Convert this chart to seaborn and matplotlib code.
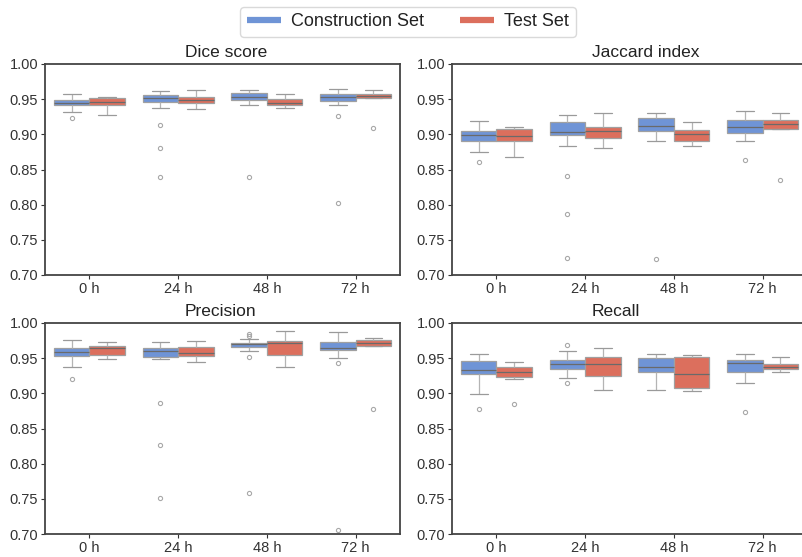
import matplotlib
matplotlib.use("Agg")
import matplotlib.pyplot as plt
import seaborn as sns
import pandas as pd
from matplotlib.lines import Line2D

sns.set_theme(style="white")
plt.rcParams['font.family'] = ['Liberation Sans', 'DejaVu Sans']

timepoints = ["0 h", "24 h", "48 h", "72 h"]
sets = ["Construction Set", "Test Set"]
metrics = ["Dice score", "Jaccard index", "Precision", "Recall"]
palette = {"Construction Set": "#6f94d6", "Test Set": "#dc6f5d"}
y_ticks = [0.70, 0.75, 0.80, 0.85, 0.90, 0.95, 1.00]

# --- Dice score ---
dice_con = {
    "0 h":  [0.923, 0.932, 0.942, 0.942, 0.942, 0.942, 0.945, 0.945, 0.945, 0.945, 0.949, 0.949, 0.949, 0.949, 0.957],
    "24 h": [0.839, 0.880, 0.913, 0.938, 0.946, 0.946, 0.946, 0.946, 0.951, 0.951, 0.951, 0.951, 0.956, 0.956, 0.956, 0.956, 0.962],
    "48 h": [0.839, 0.941, 0.949, 0.949, 0.949, 0.949, 0.953, 0.953, 0.953, 0.953, 0.959, 0.959, 0.959, 0.959, 0.963],
    "72 h": [0.802, 0.926, 0.942, 0.947, 0.947, 0.947, 0.947, 0.953, 0.953, 0.953, 0.953, 0.958, 0.958, 0.958, 0.958, 0.964],
}
dice_test = {
    "0 h":  [0.928, 0.941, 0.941, 0.941, 0.941, 0.946, 0.946, 0.946, 0.946, 0.951, 0.951, 0.951, 0.951, 0.953],
    "24 h": [0.936, 0.944, 0.944, 0.944, 0.944, 0.949, 0.949, 0.949, 0.949, 0.953, 0.953, 0.953, 0.953, 0.963],
    "48 h": [0.938, 0.942, 0.942, 0.942, 0.942, 0.945, 0.945, 0.945, 0.945, 0.950, 0.950, 0.950, 0.950, 0.957],
    "72 h": [0.909, 0.951, 0.951, 0.951, 0.951, 0.951, 0.955, 0.955, 0.955, 0.955, 0.958, 0.958, 0.958, 0.958, 0.963],
}
# --- Jaccard index ---
jac_con = {
    "0 h":  [0.860, 0.875, 0.891, 0.891, 0.891, 0.891, 0.899, 0.899, 0.899, 0.899, 0.905, 0.905, 0.905, 0.905, 0.919],
    "24 h": [0.724, 0.787, 0.841, 0.884, 0.899, 0.899, 0.899, 0.899, 0.903, 0.903, 0.903, 0.903, 0.917, 0.917, 0.917, 0.917, 0.927],
    "48 h": [0.723, 0.890, 0.905, 0.905, 0.905, 0.905, 0.912, 0.912, 0.912, 0.912, 0.923, 0.923, 0.923, 0.923, 0.931],
    "72 h": [0.863, 0.891, 0.902, 0.902, 0.902, 0.902, 0.911, 0.911, 0.911, 0.911, 0.920, 0.920, 0.920, 0.920, 0.933],
}
jac_test = {
    "0 h":  [0.868, 0.891, 0.891, 0.891, 0.891, 0.898, 0.898, 0.898, 0.898, 0.9075, 0.9075, 0.9075, 0.9075, 0.911],
    "24 h": [0.880, 0.895, 0.895, 0.895, 0.895, 0.905, 0.905, 0.905, 0.905, 0.911, 0.911, 0.911, 0.911, 0.931],
    "48 h": [0.884, 0.891, 0.891, 0.891, 0.891, 0.901, 0.901, 0.901, 0.901, 0.906, 0.906, 0.906, 0.906, 0.918],
    "72 h": [0.835, 0.908, 0.908, 0.908, 0.908, 0.908, 0.915, 0.915, 0.915, 0.915, 0.920, 0.920, 0.920, 0.920, 0.930],
}
# --- Precision ---
prec_con = {
    "0 h":  [0.921, 0.937, 0.953, 0.953, 0.953, 0.953, 0.959, 0.959, 0.959, 0.959, 0.964, 0.964, 0.964, 0.964, 0.976],
    "24 h": [0.751, 0.827, 0.886, 0.949, 0.952, 0.952, 0.952, 0.952, 0.960, 0.960, 0.960, 0.960, 0.964, 0.964, 0.964, 0.964, 0.973],
    "48 h": [0.759, 0.951, 0.960, 0.966, 0.966, 0.966, 0.966, 0.970, 0.970, 0.970, 0.970, 0.972, 0.972, 0.972, 0.972, 0.977, 0.982, 0.9845],
    "72 h": [0.706, 0.943, 0.950, 0.962, 0.962, 0.962, 0.962, 0.965, 0.965, 0.965, 0.965, 0.9725, 0.9725, 0.9725, 0.9725, 0.987],
}
prec_test = {
    "0 h":  [0.949, 0.955, 0.955, 0.955, 0.955, 0.964, 0.964, 0.964, 0.964, 0.968, 0.968, 0.968, 0.968, 0.973],
    "24 h": [0.945, 0.953, 0.953, 0.953, 0.953, 0.957, 0.957, 0.957, 0.957, 0.966, 0.966, 0.966, 0.966, 0.975],
    "48 h": [0.938, 0.954, 0.954, 0.954, 0.954, 0.971, 0.971, 0.971, 0.971, 0.974, 0.974, 0.974, 0.974, 0.989],
    "72 h": [0.878, 0.967, 0.967, 0.967, 0.967, 0.967, 0.972, 0.972, 0.972, 0.972, 0.976, 0.976, 0.976, 0.976, 0.979],
}
# --- Recall ---
rec_con = {
    "0 h":  [0.878, 0.899, 0.927, 0.927, 0.927, 0.927, 0.933, 0.933, 0.933, 0.933, 0.946, 0.946, 0.946, 0.946, 0.956],
    "24 h": [0.914, 0.922, 0.935, 0.935, 0.935, 0.935, 0.942, 0.942, 0.942, 0.942, 0.948, 0.948, 0.948, 0.948, 0.960, 0.969],
    "48 h": [0.905, 0.931, 0.931, 0.931, 0.931, 0.938, 0.938, 0.938, 0.938, 0.950, 0.950, 0.950, 0.950, 0.956],
    "72 h": [0.873, 0.914, 0.930, 0.930, 0.930, 0.930, 0.943, 0.943, 0.943, 0.943, 0.948, 0.948, 0.948, 0.948, 0.956],
}
rec_test = {
    "0 h":  [0.885, 0.920, 0.923, 0.923, 0.923, 0.923, 0.931, 0.931, 0.931, 0.931, 0.938, 0.938, 0.938, 0.938, 0.945],
    "24 h": [0.905, 0.925, 0.925, 0.925, 0.925, 0.941, 0.941, 0.941, 0.941, 0.952, 0.952, 0.952, 0.952, 0.965],
    "48 h": [0.904, 0.907, 0.907, 0.907, 0.907, 0.927, 0.927, 0.927, 0.927, 0.951, 0.951, 0.951, 0.951, 0.955],
    "72 h": [0.930, 0.934, 0.934, 0.934, 0.934, 0.938, 0.938, 0.938, 0.938, 0.941, 0.941, 0.941, 0.941, 0.951],
}

metric_data = {
    "Dice score": (dice_con, dice_test),
    "Jaccard index": (jac_con, jac_test),
    "Precision": (prec_con, prec_test),
    "Recall": (rec_con, rec_test),
}

rows = []
for m, (con, test) in metric_data.items():
    for s, d in zip(sets, (con, test)):
        for t in timepoints:
            for v in d[t]:
                rows.append({"metric": m, "set": s, "time": t, "value": v})
df = pd.DataFrame(rows)

fig = plt.figure(figsize=(8.02, 5.57), dpi=100)
W, H = 802, 557
ax_w = 355 / W
ax_h = 211 / H
positions = [
    (45 / W, 1 - 275 / H),
    (452 / W, 1 - 275 / H),
    (45 / W, 1 - 534 / H),
    (452 / W, 1 - 534 / H),
]

for m, (x0, y0) in zip(metrics, positions):
    ax = fig.add_axes([x0, y0, ax_w, ax_h])
    sub = df[df["metric"] == m]
    sns.boxplot(
        data=sub, x="time", y="value", hue="set", order=timepoints,
        hue_order=sets, palette=palette, saturation=1, width=0.8, gap=0,
        linecolor="#a0a0a0", linewidth=0.9, legend=False, ax=ax,
        medianprops=dict(color="#6a6a6a", linewidth=0.9),
        flierprops=dict(marker="o", markersize=3, markerfacecolor="none",
                        markeredgecolor="#a8a8a8", markeredgewidth=0.8),
        whiskerprops=dict(color="#b4b4b4"),
        capprops=dict(color="#9a9a9a"),
    )
    ax.set_ylim(0.70, 1.00)
    ax.set_xlim(-0.5, 3.5)
    ax.set_yticks(y_ticks)
    ax.set_yticklabels([f"{t:.2f}" for t in y_ticks])
    ax.set_xlabel("")
    ax.set_ylabel("")
    ax.tick_params(axis="both", labelsize=10.5, colors="#333333", length=3,
                   width=0.8, direction="out", pad=2,
                   bottom=True, left=True)
    for sp in ax.spines.values():
        sp.set_color("#444444")
        sp.set_linewidth(1.3)
    ax.text(0.394, 1.02, m, transform=ax.transAxes, ha="left", va="bottom",
            fontsize=12.5, color="#222222")

handles = [Line2D([0], [0], color=palette[s], lw=4.5, solid_capstyle="butt")
           for s in sets]
leg = fig.legend(handles, sets, loc="center", bbox_to_anchor=(408 / W, 1 - 22 / H),
                 ncol=2, frameon=True, fontsize=13, handlelength=1.9,
                 columnspacing=2.0, handletextpad=0.55, borderpad=0.35,
                 borderaxespad=0, fancybox=True)
leg.get_frame().set_edgecolor("#d0d0d0")
leg.get_frame().set_linewidth(1.0)
for t in leg.get_texts():
    t.set_color("#222222")

fig.savefig("out.png", dpi=100)
